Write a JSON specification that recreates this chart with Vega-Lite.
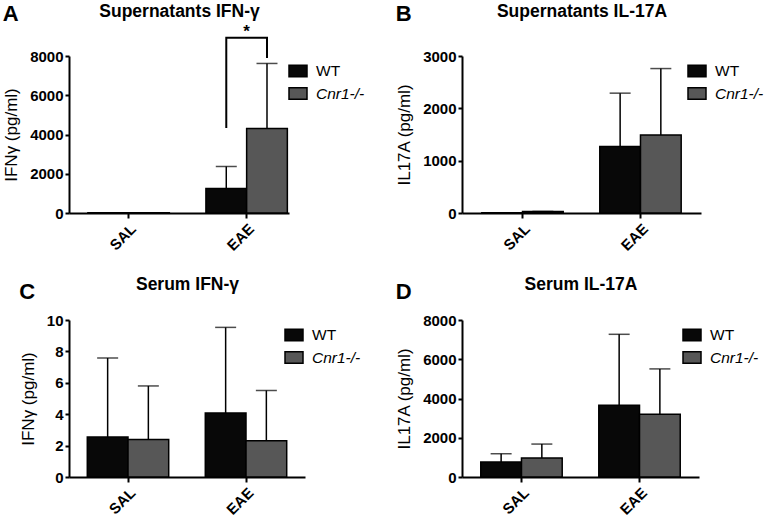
{
  "$schema": "https://vega.github.io/schema/vega-lite/v6.json",
  "padding": {"left": 2, "top": 2, "right": 2, "bottom": 2},
  "background": "white",
  "datasets": {
    "a": [
      {"group": "SAL", "genotype": "WT", "mean": 10, "upper": 10},
      {"group": "SAL", "genotype": "Cnr1-/-", "mean": 10, "upper": 10},
      {"group": "EAE", "genotype": "WT", "mean": 1250, "upper": 2370},
      {"group": "EAE", "genotype": "Cnr1-/-", "mean": 4300, "upper": 7620}
    ],
    "bracket": [
      {"group": "EAE", "genotype": "WT", "y": 4330, "k": 1},
      {"group": "EAE", "genotype": "WT", "y": 8930, "k": 2},
      {"group": "EAE", "genotype": "Cnr1-/-", "y": 8930, "k": 3},
      {"group": "EAE", "genotype": "Cnr1-/-", "y": 7900, "k": 4}
    ],
    "star": [{"group": "EAE", "label": "*", "y": 8950}],
    "b": [
      {"group": "SAL", "genotype": "WT", "mean": 5, "upper": 5},
      {"group": "SAL", "genotype": "Cnr1-/-", "mean": 30, "upper": 30},
      {"group": "EAE", "genotype": "WT", "mean": 1270, "upper": 2290},
      {"group": "EAE", "genotype": "Cnr1-/-", "mean": 1490, "upper": 2760}
    ],
    "c": [
      {"group": "SAL", "genotype": "WT", "mean": 2.54, "upper": 7.58},
      {"group": "SAL", "genotype": "Cnr1-/-", "mean": 2.39, "upper": 5.8},
      {"group": "EAE", "genotype": "WT", "mean": 4.07, "upper": 9.53},
      {"group": "EAE", "genotype": "Cnr1-/-", "mean": 2.31, "upper": 5.51}
    ],
    "d": [
      {"group": "SAL", "genotype": "WT", "mean": 763, "upper": 1186},
      {"group": "SAL", "genotype": "Cnr1-/-", "mean": 966, "upper": 1678},
      {"group": "EAE", "genotype": "WT", "mean": 3661, "upper": 7271},
      {"group": "EAE", "genotype": "Cnr1-/-", "mean": 3203, "upper": 5508}
    ]
  },
  "columns": 2,
  "spacing": {"row": 21, "column": 25},
  "resolve": {
    "scale": {"color": "independent", "x": "independent", "y": "independent", "xOffset": "independent"},
    "legend": {"color": "independent"}
  },
  "concat": [
    {
      "width": 220, "height": 157,
      "title": {"text": "A", "anchor": "start", "frame": "bounds", "fontSize": 22, "fontWeight": "bold", "offset": -24},
      "resolve": {"axis": {"x": "independent"}},
      "layer": [
        {
          "data": {"name": "a"},
          "mark": {"type": "rule", "strokeWidth": 1.5, "color": "black"},
          "encoding": {
            "x": {"field": "group", "type": "nominal", "scale": {"domain": ["SAL", "EAE"], "paddingInner": 0.31, "paddingOuter": 0.087, "align": 0.92},
                  "axis": {"orient": "top", "title": "Supernatants IFN-γ", "labels": false, "ticks": false, "domain": false, "titleFontSize": 17.5, "titleFontWeight": "bold", "titlePadding": 36}},
            "xOffset": {"field": "genotype", "type": "nominal", "scale": {"domain": ["WT", "Cnr1-/-"], "paddingInner": 0, "paddingOuter": 0}},
            "y": {"field": "mean", "type": "quantitative", "scale": {"domain": [0, 8000], "nice": false},
                  "axis": {"values": [0, 2000, 4000, 6000, 8000], "format": "d", "title": "IFNγ (pg/ml)"}},
            "y2": {"field": "upper"}
          }
        },
        {
          "data": {"name": "a"},
          "mark": {"type": "tick", "orient": "horizontal", "size": 21, "thickness": 1.5, "color": "black"},
          "encoding": {
            "x": {"field": "group", "type": "nominal", "axis": null},
            "xOffset": {"field": "genotype", "type": "nominal"},
            "y": {"field": "upper", "type": "quantitative", "axis": {"values": [0, 2000, 4000, 6000, 8000], "format": "d", "title": "IFNγ (pg/ml)"}}
          }
        },
        {
          "data": {"name": "a"},
          "mark": {"type": "bar", "stroke": "black", "strokeWidth": 1.5},
          "encoding": {
            "x": {"field": "group", "type": "nominal", "axis": {"orient": "bottom", "title": null, "labelAngle": -45}},
            "xOffset": {"field": "genotype", "type": "nominal"},
            "y": {"field": "mean", "type": "quantitative", "axis": {"values": [0, 2000, 4000, 6000, 8000], "format": "d", "title": "IFNγ (pg/ml)"}},
            "color": {"field": "genotype", "type": "nominal", "scale": {"domain": ["WT", "Cnr1-/-"], "range": ["#080808", "#575757"]},
                      "legend": {"offset": -6, "encode": {"labels": {"update": {"fontStyle": {"signal": "datum.value === 'WT' ? 'normal' : 'italic'"}}}}}}
          }
        },
        {
          "data": {"name": "bracket"},
          "mark": {"type": "line", "strokeWidth": 2, "color": "black"},
          "encoding": {
            "x": {"field": "group", "type": "nominal", "axis": null},
            "xOffset": {"field": "genotype", "type": "nominal"},
            "y": {"field": "y", "type": "quantitative", "axis": {"values": [0, 2000, 4000, 6000, 8000], "format": "d", "title": "IFNγ (pg/ml)"}},
            "order": {"field": "k", "type": "quantitative"}
          }
        },
        {
          "data": {"name": "star"},
          "mark": {"type": "text", "fontSize": 17, "fontWeight": "bold", "baseline": "alphabetic", "color": "black"},
          "encoding": {
            "x": {"field": "group", "type": "nominal", "axis": null},
            "y": {"field": "y", "type": "quantitative", "axis": {"values": [0, 2000, 4000, 6000, 8000], "format": "d", "title": "IFNγ (pg/ml)"}},
            "text": {"field": "label"}
          }
        }
      ]
    },
    {
      "width": 239, "height": 157,
      "title": {"text": "B", "anchor": "start", "frame": "bounds", "fontSize": 22, "fontWeight": "bold", "offset": -24},
      "resolve": {"axis": {"x": "independent"}},
      "layer": [
        {
          "data": {"name": "b"},
          "mark": {"type": "rule", "strokeWidth": 1.5, "color": "black"},
          "encoding": {
            "x": {"field": "group", "type": "nominal", "scale": {"domain": ["SAL", "EAE"], "paddingInner": 0.31, "paddingOuter": 0.168, "align": 0.5},
                  "axis": {"orient": "top", "title": "Supernatants IL-17A", "labels": false, "ticks": false, "domain": false, "titleFontSize": 17.5, "titleFontWeight": "bold", "titlePadding": 36}},
            "xOffset": {"field": "genotype", "type": "nominal", "scale": {"domain": ["WT", "Cnr1-/-"], "paddingInner": 0, "paddingOuter": 0}},
            "y": {"field": "mean", "type": "quantitative", "scale": {"domain": [0, 3000], "nice": false},
                  "axis": {"values": [0, 1000, 2000, 3000], "format": "d", "title": "IL17A (pg/ml)"}},
            "y2": {"field": "upper"}
          }
        },
        {
          "data": {"name": "b"},
          "mark": {"type": "tick", "orient": "horizontal", "size": 21, "thickness": 1.5, "color": "black"},
          "encoding": {
            "x": {"field": "group", "type": "nominal", "axis": null},
            "xOffset": {"field": "genotype", "type": "nominal"},
            "y": {"field": "upper", "type": "quantitative", "axis": {"values": [0, 1000, 2000, 3000], "format": "d", "title": "IL17A (pg/ml)"}}
          }
        },
        {
          "data": {"name": "b"},
          "mark": {"type": "bar", "stroke": "black", "strokeWidth": 1.5},
          "encoding": {
            "x": {"field": "group", "type": "nominal", "axis": {"orient": "bottom", "title": null, "labelAngle": -45}},
            "xOffset": {"field": "genotype", "type": "nominal"},
            "y": {"field": "mean", "type": "quantitative", "axis": {"values": [0, 1000, 2000, 3000], "format": "d", "title": "IL17A (pg/ml)"}},
            "color": {"field": "genotype", "type": "nominal", "scale": {"domain": ["WT", "Cnr1-/-"], "range": ["#080808", "#575757"]},
                      "legend": {"offset": -19, "encode": {"labels": {"update": {"fontStyle": {"signal": "datum.value === 'WT' ? 'normal' : 'italic'"}}}}}}
          }
        }
      ]
    },
    {
      "width": 236, "height": 157,
      "title": {"text": "C", "anchor": "start", "frame": "bounds", "fontSize": 22, "fontWeight": "bold", "offset": -29},
      "resolve": {"axis": {"x": "independent"}},
      "layer": [
        {
          "data": {"name": "c"},
          "mark": {"type": "rule", "strokeWidth": 1.5, "color": "black"},
          "encoding": {
            "x": {"field": "group", "type": "nominal", "scale": {"domain": ["SAL", "EAE"], "paddingInner": 0.31, "paddingOuter": 0.155, "align": 0.5},
                  "axis": {"orient": "top", "title": "Serum IFN-γ", "labels": false, "ticks": false, "domain": false, "titleFontSize": 17.5, "titleFontWeight": "bold", "titlePadding": 27}},
            "xOffset": {"field": "genotype", "type": "nominal", "scale": {"domain": ["WT", "Cnr1-/-"], "paddingInner": 0, "paddingOuter": 0}},
            "y": {"field": "mean", "type": "quantitative", "scale": {"domain": [0, 10], "nice": false},
                  "axis": {"values": [0, 2, 4, 6, 8, 10], "format": "d", "title": "IFNγ (pg/ml)"}},
            "y2": {"field": "upper"}
          }
        },
        {
          "data": {"name": "c"},
          "mark": {"type": "tick", "orient": "horizontal", "size": 21, "thickness": 1.5, "color": "black"},
          "encoding": {
            "x": {"field": "group", "type": "nominal", "axis": null},
            "xOffset": {"field": "genotype", "type": "nominal"},
            "y": {"field": "upper", "type": "quantitative", "axis": {"values": [0, 2, 4, 6, 8, 10], "format": "d", "title": "IFNγ (pg/ml)"}}
          }
        },
        {
          "data": {"name": "c"},
          "mark": {"type": "bar", "stroke": "black", "strokeWidth": 1.5},
          "encoding": {
            "x": {"field": "group", "type": "nominal", "axis": {"orient": "bottom", "title": null, "labelAngle": -45}},
            "xOffset": {"field": "genotype", "type": "nominal"},
            "y": {"field": "mean", "type": "quantitative", "axis": {"values": [0, 2, 4, 6, 8, 10], "format": "d", "title": "IFNγ (pg/ml)"}},
            "color": {"field": "genotype", "type": "nominal", "scale": {"domain": ["WT", "Cnr1-/-"], "range": ["#080808", "#575757"]},
                      "legend": {"offset": -26, "encode": {"labels": {"update": {"fontStyle": {"signal": "datum.value === 'WT' ? 'normal' : 'italic'"}}}}}}
          }
        }
      ]
    },
    {
      "width": 237, "height": 157,
      "title": {"text": "D", "anchor": "start", "frame": "bounds", "fontSize": 22, "fontWeight": "bold", "offset": -29},
      "resolve": {"axis": {"x": "independent"}},
      "layer": [
        {
          "data": {"name": "d"},
          "mark": {"type": "rule", "strokeWidth": 1.5, "color": "black"},
          "encoding": {
            "x": {"field": "group", "type": "nominal", "scale": {"domain": ["SAL", "EAE"], "paddingInner": 0.31, "paddingOuter": 0.159, "align": 0.5},
                  "axis": {"orient": "top", "title": "Serum IL-17A", "labels": false, "ticks": false, "domain": false, "titleFontSize": 17.5, "titleFontWeight": "bold", "titlePadding": 27}},
            "xOffset": {"field": "genotype", "type": "nominal", "scale": {"domain": ["WT", "Cnr1-/-"], "paddingInner": 0, "paddingOuter": 0}},
            "y": {"field": "mean", "type": "quantitative", "scale": {"domain": [0, 8000], "nice": false},
                  "axis": {"values": [0, 2000, 4000, 6000, 8000], "format": "d", "title": "IL17A (pg/ml)"}},
            "y2": {"field": "upper"}
          }
        },
        {
          "data": {"name": "d"},
          "mark": {"type": "tick", "orient": "horizontal", "size": 21, "thickness": 1.5, "color": "black"},
          "encoding": {
            "x": {"field": "group", "type": "nominal", "axis": null},
            "xOffset": {"field": "genotype", "type": "nominal"},
            "y": {"field": "upper", "type": "quantitative", "axis": {"values": [0, 2000, 4000, 6000, 8000], "format": "d", "title": "IL17A (pg/ml)"}}
          }
        },
        {
          "data": {"name": "d"},
          "mark": {"type": "bar", "stroke": "black", "strokeWidth": 1.5},
          "encoding": {
            "x": {"field": "group", "type": "nominal", "axis": {"orient": "bottom", "title": null, "labelAngle": -45}},
            "xOffset": {"field": "genotype", "type": "nominal"},
            "y": {"field": "mean", "type": "quantitative", "axis": {"values": [0, 2000, 4000, 6000, 8000], "format": "d", "title": "IL17A (pg/ml)"}},
            "color": {"field": "genotype", "type": "nominal", "scale": {"domain": ["WT", "Cnr1-/-"], "range": ["#080808", "#575757"]},
                      "legend": {"offset": -22, "encode": {"labels": {"update": {"fontStyle": {"signal": "datum.value === 'WT' ? 'normal' : 'italic'"}}}}}}
          }
        }
      ]
    }
  ],
  "config": {
    "font": "Liberation Sans",
    "view": {"stroke": null},
    "title": {"color": "black", "font": "Liberation Sans"},
    "axis": {
      "grid": false,
      "labelOverlap": false,
      "domainColor": "black", "domainWidth": 2,
      "tickColor": "black", "tickWidth": 2, "tickSize": 4,
      "labelFont": "Liberation Sans", "labelFontWeight": "bold", "labelFontSize": 15, "labelColor": "black", "labelPadding": 2,
      "titleFont": "Liberation Sans", "titleFontWeight": "normal", "titleFontSize": 17, "titleColor": "black", "titlePadding": 9
    },
    "axisX": {"tickSize": 5, "labelPadding": 3},
    "legend": {
      "title": null,
      "orient": "right",
      "padding": 5,
      "symbolType": "M-1,-0.65H1V0.65H-1Z",
      "symbolSize": 324,
      "symbolStrokeColor": "black",
      "symbolStrokeWidth": 1.5,
      "symbolOpacity": 1,
      "labelFont": "Liberation Sans",
      "labelFontSize": 15.5,
      "labelColor": "black",
      "labelOffset": 8,
      "rowPadding": 3.5
    }
  }
}
